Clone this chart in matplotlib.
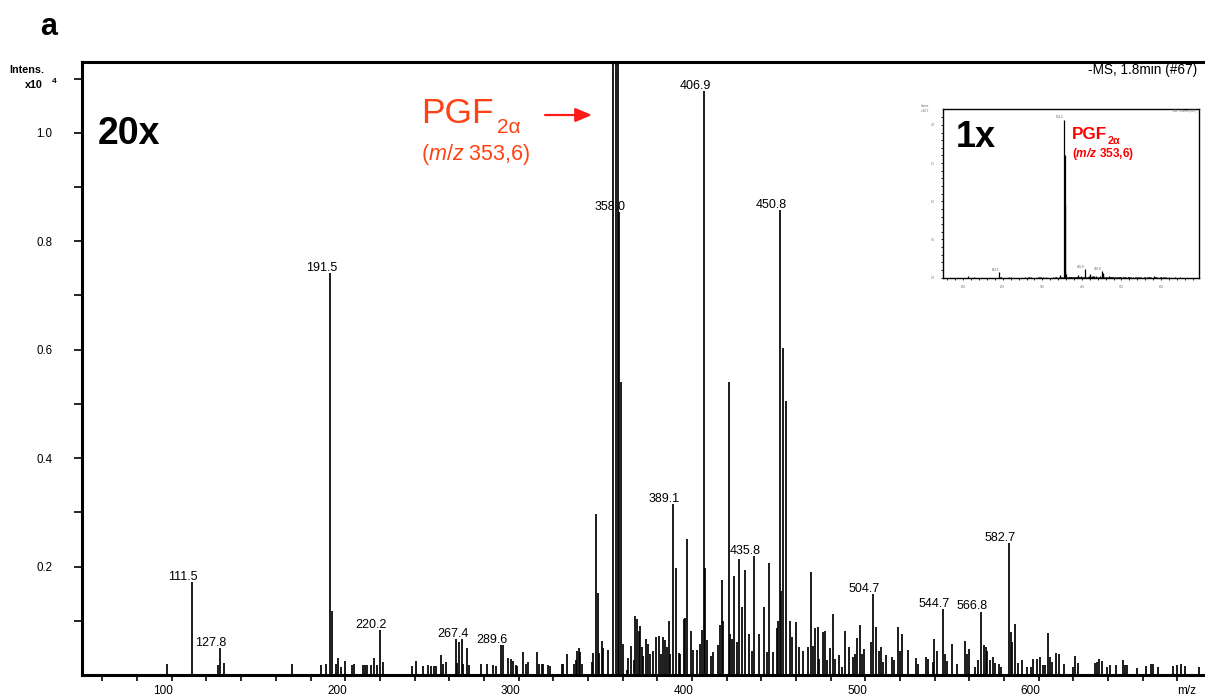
import matplotlib
matplotlib.use('Agg')
import matplotlib.pyplot as plt
from matplotlib.ticker import FixedLocator, NullFormatter

plt.rcParams['font.family'] = ['Liberation Sans', 'DejaVu Sans']
plt.rcParams['mathtext.fontset'] = 'custom'
plt.rcParams['mathtext.rm'] = 'Liberation Sans'
plt.rcParams['mathtext.it'] = 'Liberation Sans:italic'
plt.rcParams['mathtext.bf'] = 'Liberation Sans:bold'
plt.rcParams['mathtext.bfit'] = 'Liberation Sans:bold:italic'

# ---------------- data (intensity in x10^4) ----------------
mz = [97.4, 111.5, 126.5, 127.8, 130.1, 169.5, 185.9, 188.8, 191.5, 192.2,
      194.7, 195.7, 197.6, 199.9, 204.1, 205.1, 210.5, 211.5, 212.8, 214.9,
      216.8, 218.2, 220.2, 221.6, 238.4, 240.9, 245.1, 247.6, 249.5, 251.2,
      252.4, 255.1, 256.6, 258.2, 263.9, 264.7, 265.7, 267.4, 268.1, 270.1,
      271.2, 278.2, 281.6, 285.1, 287.0, 289.6, 291.2, 294.1, 295.5, 296.6,
      298.3, 299.3, 302.7, 304.3, 305.6, 310.5, 311.8, 313.3, 314.3, 317.2,
      318.1, 324.9, 325.8, 328.1, 332.0, 333.1, 333.9, 334.7, 335.4, 336.4,
      342.5, 343.1, 344.7, 345.6, 346.6, 348.0, 348.9, 351.8, 354.2, 356.2,
      357.1, 358.0, 359.1, 360.4, 362.4, 363.3, 364.7, 366.6, 367.3, 368.3,
      369.3, 370.2, 371.2, 371.9, 373.5, 374.8, 375.8, 377.7, 379.1, 381.0,
      382.2, 383.1, 384.5, 385.4, 386.6, 387.3, 389.1, 390.8, 392.3, 393.1,
      395.4, 396.0, 397.0, 399.3, 400.8, 402.7, 404.6, 405.8, 406.9, 407.7,
      408.9, 410.8, 412.3, 415.2, 416.2, 417.1, 418.1, 421.2, 421.9, 422.9,
      424.4, 425.8, 427.1, 428.7, 430.4, 433.1, 434.4, 435.8, 438.8, 441.5,
      443.1, 444.6, 446.9, 448.9, 449.8, 450.8, 451.5, 452.3, 454.5, 456.5,
      457.5, 460.0, 461.9, 464.2, 467.1, 468.6, 470.0, 470.9, 472.5, 473.4,
      475.4, 476.5, 477.7, 479.6, 481.2, 482.7, 485.0, 486.4, 488.4, 490.4,
      492.7, 494.0, 495.3, 496.7, 498.1, 499.4, 503.3, 504.7, 506.2, 507.7,
      508.8, 510.3, 511.9, 515.4, 516.5, 518.6, 519.9, 521.3, 524.7, 529.0,
      530.5, 534.8, 535.9, 538.8, 539.8, 541.1, 544.7, 545.9, 546.9, 550.0,
      552.7, 557.5, 558.4, 560.0, 563.3, 565.2, 566.8, 568.5, 569.4, 570.3,
      571.9, 573.4, 574.8, 576.9, 578.1, 582.7, 583.8, 584.7, 586.3, 588.2,
      590.2, 593.4, 595.4, 596.9, 598.9, 600.8, 602.3, 603.6, 605.5, 606.5,
      607.5, 610.0, 611.9, 614.7, 619.9, 620.9, 622.5, 632.4, 633.4, 634.9,
      636.3, 639.5, 641.1, 644.4, 648.4, 649.7, 650.7, 656.5, 661.9, 664.6,
      666.1, 669.0, 677.6, 679.6, 682.0, 684.3, 692.6]
intensity = [0.020, 0.172, 0.018, 0.049, 0.022, 0.020, 0.018, 0.021, 0.742, 0.118,
             0.021, 0.031, 0.014, 0.026, 0.018, 0.021, 0.018, 0.018, 0.019, 0.019,
             0.031, 0.019, 0.083, 0.024, 0.016, 0.026, 0.017, 0.019, 0.016, 0.016,
             0.016, 0.036, 0.020, 0.024, 0.066, 0.022, 0.060, 0.066, 0.021, 0.049,
             0.018, 0.021, 0.020, 0.018, 0.016, 0.055, 0.055, 0.032, 0.030, 0.025,
             0.018, 0.016, 0.042, 0.021, 0.024, 0.042, 0.021, 0.021, 0.020, 0.018,
             0.016, 0.021, 0.021, 0.039, 0.021, 0.028, 0.045, 0.050, 0.042, 0.021,
             0.024, 0.040, 0.297, 0.152, 0.040, 0.062, 0.050, 0.046, 20.7, 16.1,
             9.5, 0.853, 0.540, 0.057, 0.010, 0.032, 0.053, 0.027, 0.109, 0.103,
             0.081, 0.090, 0.051, 0.035, 0.066, 0.057, 0.039, 0.045, 0.070, 0.072,
             0.039, 0.070, 0.064, 0.051, 0.100, 0.039, 0.315, 0.197, 0.041, 0.039,
             0.103, 0.105, 0.250, 0.081, 0.046, 0.046, 0.058, 0.083, 1.077, 0.197,
             0.064, 0.035, 0.042, 0.055, 0.092, 0.175, 0.100, 0.540, 0.076, 0.066,
             0.183, 0.060, 0.213, 0.126, 0.194, 0.076, 0.045, 0.219, 0.075, 0.126,
             0.042, 0.206, 0.042, 0.087, 0.100, 0.858, 0.154, 0.603, 0.505, 0.100,
             0.070, 0.098, 0.051, 0.045, 0.052, 0.190, 0.054, 0.086, 0.088, 0.030,
             0.079, 0.081, 0.027, 0.049, 0.112, 0.030, 0.036, 0.015, 0.081, 0.052,
             0.033, 0.039, 0.069, 0.092, 0.039, 0.048, 0.060, 0.149, 0.088, 0.045,
             0.051, 0.024, 0.036, 0.033, 0.027, 0.088, 0.045, 0.076, 0.047, 0.031,
             0.021, 0.034, 0.030, 0.024, 0.066, 0.045, 0.121, 0.039, 0.026, 0.058,
             0.021, 0.062, 0.039, 0.048, 0.015, 0.027, 0.117, 0.055, 0.051, 0.044,
             0.027, 0.033, 0.022, 0.021, 0.015, 0.243, 0.080, 0.060, 0.094, 0.022,
             0.027, 0.015, 0.015, 0.029, 0.029, 0.033, 0.018, 0.019, 0.077, 0.034,
             0.024, 0.041, 0.039, 0.020, 0.015, 0.035, 0.022, 0.022, 0.024, 0.030,
             0.025, 0.015, 0.018, 0.018, 0.027, 0.019, 0.018, 0.012, 0.016, 0.020,
             0.020, 0.014, 0.016, 0.018, 0.020, 0.016, 0.014]

peak_labels = ['111.5', '127.8', '191.5', '220.2', '267.4', '289.6', '358.0', '389.1',
               '406.9', '435.8', '450.8', '504.7', '544.7', '566.8', '582.7']
inset_labels = ['191.5', '354.2', '406.9', '450.8']

x_major = [100, 200, 300, 400, 500, 600]
x_minor = list(range(60, 700, 20))
y_major = [0.2, 0.4, 0.6, 0.8, 1.0]
y_minor = [0.1, 0.3, 0.5, 0.7, 0.9, 1.1]
inset_y_major = [0.0, 0.5, 1.0, 1.5, 2.0]
inset_x_major = [100, 200, 300, 400, 500, 600, 700]

W, H = 1205, 695
def fx(px):
    return px / W
def fy(py):
    return 1 - py / H

RED_TXT = '#FF4214'
RED_ARROW = '#FF1A1A'

fig = plt.figure(figsize=(W / 100, H / 100), dpi=100)
ax = fig.add_axes([fx(82), fy(675), 1 - fx(82), fy(61.7) - fy(675)])

ax.vlines(mz, 0, intensity, colors='black', linewidth=1.25, zorder=3)
ax.set_xlim(48.2, 695.9)
ax.set_ylim(0, 1.131)

for s in ['top', 'left', 'bottom']:
    ax.spines[s].set_linewidth(2.2)
ax.spines['right'].set_visible(False)

ax.xaxis.set_major_locator(FixedLocator(x_minor))
ax.xaxis.set_major_formatter(NullFormatter())
ax.yaxis.set_major_locator(FixedLocator(y_major))
ax.yaxis.set_minor_locator(FixedLocator(y_minor))
ax.set_yticklabels(['%.1f' % v for v in y_major])
ax.tick_params(axis='y', which='both', direction='out', length=5.5, width=1.2,
               pad=16, labelsize=8.3)
ax.tick_params(axis='x', which='both', direction='out', length=4.5, width=1.2)

for v in x_major:
    ax.annotate(str(v), xy=(v, 0), xycoords=ax.get_xaxis_transform(),
                xytext=(-6, -7), textcoords='offset points', ha='center', va='top',
                fontsize=8.5)
fig.text(fx(1187), fy(694), 'm/z', fontsize=8.5, ha='center', va='baseline')

for lab in peak_labels:
    target = float(lab)
    i = min(range(len(mz)), key=lambda k: abs(mz[k] - target))
    ax.annotate(lab, xy=(mz[i], intensity[i]), xytext=(-6.5, 1.5),
                textcoords='offset points', ha='center', va='baseline',
                fontsize=9, zorder=1)

# header texts
fig.text(fx(40), fy(35), 'a', fontsize=22, fontweight='bold')
fig.text(fx(9), fy(73), 'Intens.', fontsize=7.8, fontweight='bold')
fig.text(fx(25), fy(88), 'x10', fontsize=7.8, fontweight='bold')
fig.text(fx(52), fy(83), '4', fontsize=6, fontweight='bold')
fig.text(fx(1197), fy(74), '-MS, 1.8min (#67)', fontsize=9.8, ha='right')
fig.text(fx(98), fy(144), '20x', fontsize=27, fontweight='bold')

# PGF2a annotation
fig.text(fx(421), fy(123.3), 'PGF', fontsize=25.5, color=RED_TXT)
fig.text(fx(497), fy(133), '2\u03b1', fontsize=15, color=RED_TXT)
fig.text(fx(421), fy(160), r'($\mathit{m/z}$ 353,6)', fontsize=15.5, color=RED_TXT)
ax.annotate('', xy=(fx(592), fy(115)), xycoords='figure fraction',
            xytext=(fx(545), fy(115)), textcoords='figure fraction',
            arrowprops=dict(arrowstyle='-|>,head_length=1.0,head_width=0.42',
                            color=RED_ARROW, lw=1.6, shrinkA=0, shrinkB=0))

# ---------------- inset (1x) ----------------
iax = fig.add_axes([fx(942.7), fy(277.7), fx(1199) - fx(942.7), fy(109) - fy(277.7)])
iax.vlines(mz, 0, [v / 10 for v in intensity], colors='black', linewidth=0.9)
iax.set_xlim(48.2, 695.9)
iax.set_ylim(0, 2.208)
for s in iax.spines.values():
    s.set_linewidth(1.0)
iax.xaxis.set_major_locator(FixedLocator(inset_x_major))
iax.xaxis.set_minor_locator(FixedLocator(x_minor))
iax.yaxis.set_major_locator(FixedLocator(inset_y_major))
iax.yaxis.set_minor_locator(FixedLocator([i / 10 for i in range(1, 22)]))
iax.set_xticklabels([str(v) for v in inset_x_major])
iax.set_yticklabels(['%.1f' % v for v in inset_y_major])
iax.tick_params(which='both', direction='out', length=1.5, width=0.6,
                labelsize=2.2, labelcolor='#777777', pad=4)
for lab in inset_labels:
    target = float(lab)
    i = min(range(len(mz)), key=lambda k: abs(mz[k] - target))
    iax.annotate(lab, xy=(mz[i], intensity[i] / 10), xytext=(-3, 0.8),
                 textcoords='offset points', ha='center', va='baseline',
                 fontsize=2.2, color='#555555')
fig.text(fx(921), fy(112), 'Intens.\nx10 5', fontsize=2.2, color='#666666')
fig.text(fx(1196), fy(112), '-MS, 1.8min (#67)', fontsize=2.2, color='#666666', ha='right')

fig.text(fx(956), fy(147), '1x', fontsize=26, fontweight='bold')
fig.text(fx(1071.5), fy(139), 'PGF', fontsize=12.3, fontweight='bold', color='red')
fig.text(fx(1107.5), fy(143.5), '2\u03b1', fontsize=7.8, fontweight='bold', color='red')
fig.text(fx(1071.5), fy(157), r'($\mathbfit{m/z}$ 353,6)', fontsize=8.6,
         fontweight='bold', color='red')

fig.savefig('out.png', dpi=100)
